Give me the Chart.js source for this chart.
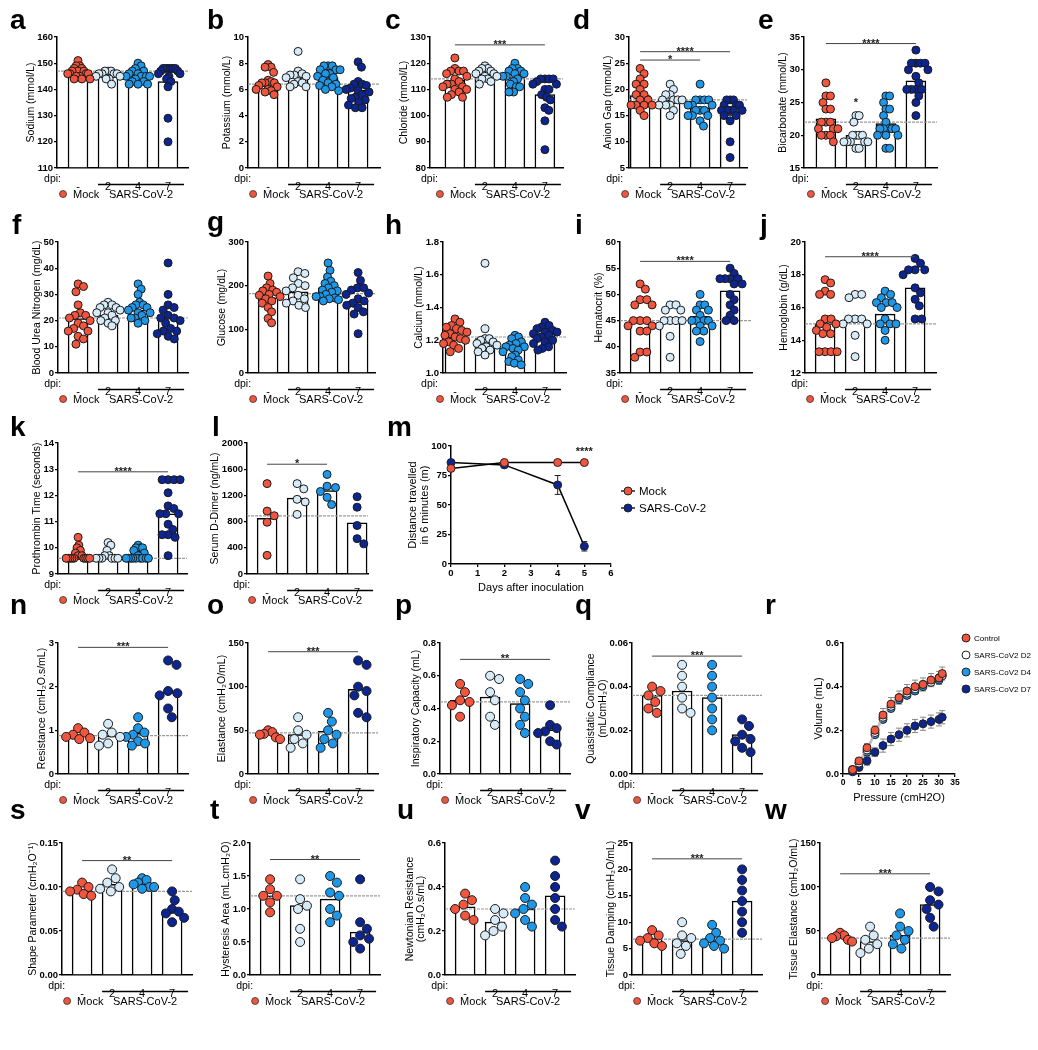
<!DOCTYPE html>
<html>
<head>
<meta charset="utf-8">
<script src="https://cdn.jsdelivr.net/npm/chart.js@4.4.0/dist/chart.umd.min.js"></script>
<style>
body { margin: 0; background: #fff; width: 1038px; height: 1050px; position: relative; overflow: hidden; }
canvas { position: absolute; }
.lbl { position: absolute; font: bold 28px "Liberation Sans", Arial, sans-serif; line-height: 1; }
</style>
</head>
<body>
<script>
// ---- data ----
const dpiLabels = ['-', '2', '4', '7'];

// a: sodium
const sodium = [
    [151, 149, 149, 148, 148, 147, 147, 147, 146, 146, 146, 146, 145, 145, 144, 144, 144],
    [147, 147, 147, 146, 146, 146, 146, 145, 145, 144, 144, 142],
    [150, 149, 148, 147, 147, 146, 146, 145, 145, 145, 145, 144, 143, 143, 142, 142, 142],
    [148, 148, 148, 148, 148, 148, 147, 147, 146, 146, 145, 144, 143, 141, 129, 120]
];
const sodiumMean = [147, 146.5, 145.5, 143];

// b: potassium
const potassium = [
    [7.9, 7.7, 7.7, 7.3, 6.7, 6.6, 6.5, 6.5, 6.5, 6.3, 6.2, 6.0, 6.0, 5.9, 5.8, 5.6],
    [8.9, 7.4, 7.2, 7.1, 7.1, 7.0, 6.9, 6.6, 6.5, 6.4, 6.2, 6.2],
    [7.8, 7.8, 7.8, 7.5, 7.5, 7.5, 7.2, 7.2, 7.0, 6.9, 6.7, 6.5, 6.4, 6.3, 6.2, 6.0, 5.9],
    [8.1, 7.7, 6.6, 6.4, 6.4, 6.3, 6.1, 6.0, 5.9, 5.8, 5.6, 5.4, 5.3, 5.2, 5.0, 4.8, 4.6, 4.6]
];
const potassiumMean = [6.4, 6.9, 6.9, 5.95];

// c: chloride
const chloride = [
    [122, 118, 117, 117, 117, 116, 115, 114, 113, 112, 112, 111, 111, 110, 110, 109, 108, 107, 107],
    [119, 118, 118, 117, 117, 116, 116, 115, 115, 114, 114, 113, 112],
    [120, 118, 118, 117, 117, 116, 116, 115, 115, 114, 113, 112, 111, 111, 109, 109],
    [114, 114, 114, 114, 113, 112, 112, 110, 110, 108, 107, 106, 103, 102, 98, 87]
];
const chlorideMean = [113.5, 115.5, 114.5, 108];

// d: anion gap
const anionGap = [
    [24, 23, 22, 21, 21, 20, 19, 19, 18, 18, 17, 17, 17, 17, 16, 15],
    [21, 20, 19, 19, 18, 18, 18, 18, 17, 17, 17, 16, 15],
    [21, 18, 18, 18, 18, 17, 17, 17, 16, 16, 16, 15, 15, 15, 14, 13],
    [18, 18, 18, 17, 17, 17, 16, 16, 16, 16, 16, 15, 15, 14, 10, 7]
];
const anionGapMean = [18.8, 18, 16.5, 15.2];

// e: bicarbonate
const bicarbonate = [
    [28, 26, 26, 25, 24, 24, 22, 22, 22, 21, 21, 21, 20, 20, 20, 19],
    [23, 23, 22, 20, 20, 20, 20, 19, 19, 19, 19, 19, 18, 18],
    [26, 26, 25, 24, 24, 23, 22, 21, 21, 21, 21, 21, 20, 20, 20, 18, 18],
    [33, 31, 31, 31, 31, 30, 30, 29, 28, 27, 27, 27, 27, 26, 25, 23]
];
const bicarbonateMean = [22.5, 20, 21.8, 28.3];

// f: blood urea nitrogen
const bun = [
    [34, 33, 31, 26, 23, 22, 22, 21, 20, 19, 18, 17, 16, 16, 14, 13, 11],
    [27, 26, 26, 25, 25, 24, 23, 23, 22, 21, 20, 20, 19, 18],
    [34, 32, 30, 27, 26, 26, 25, 25, 24, 23, 23, 22, 21, 21, 20, 19],
    [42, 30, 26, 25, 24, 22, 21, 21, 20, 19, 17, 16, 16, 15, 14, 13]
];
const bunMean = [20.8, 22, 24, 21.5];

// g: glucose
const glucose = [
    [222, 205, 195, 190, 188, 185, 180, 178, 175, 170, 165, 160, 150, 140, 125, 115],
    [232, 228, 218, 205, 200, 195, 188, 178, 170, 165, 160, 155, 150],
    [252, 235, 220, 210, 205, 200, 195, 190, 188, 185, 180, 175, 175, 172, 170, 168, 165],
    [230, 212, 195, 195, 190, 183, 180, 170, 165, 160, 155, 150, 140, 135, 90]
];
const glucoseMean = [172, 186, 195, 164];

// h: calcium
const calcium = [
    [1.33, 1.31, 1.29, 1.28, 1.27, 1.26, 1.25, 1.24, 1.23, 1.22, 1.21, 1.20, 1.19, 1.18, 1.17, 1.15, 1.13],
    [1.67, 1.27, 1.21, 1.21, 1.20, 1.19, 1.18, 1.17, 1.16, 1.15, 1.14, 1.13, 1.11],
    [1.23, 1.22, 1.21, 1.19, 1.18, 1.17, 1.16, 1.16, 1.15, 1.14, 1.13, 1.11, 1.10, 1.08, 1.07, 1.06, 1.05],
    [1.31, 1.29, 1.28, 1.27, 1.26, 1.25, 1.25, 1.24, 1.23, 1.22, 1.21, 1.20, 1.19, 1.18, 1.16, 1.15, 1.14]
];
const calciumMean = [1.22, 1.21, 1.16, 1.24];

// i: hematocrit
const hematocrit = [
    [52, 51, 49, 49, 48, 48, 45, 45, 45, 44, 44, 43, 43, 39, 39, 38],
    [48, 48, 47, 47, 45, 45, 45, 45, 44, 42, 38],
    [50, 48, 48, 47, 47, 46, 45, 45, 45, 45, 44, 44, 43, 43, 41],
    [55, 54, 53, 53, 53, 53, 52, 52, 50, 49, 48, 47, 46, 45, 45]
];
const hematocritMean = [45, 44.8, 45.8, 50.7];

// j: hemoglobin
const hemoglobin = [
    [17.7, 17.5, 17.0, 16.8, 16.8, 15.3, 15.3, 15.0, 15.0, 14.8, 14.6, 14.4, 14.4, 13.3, 13.3, 13.3, 13.3],
    [16.8, 16.8, 16.6, 15.3, 15.3, 15.3, 15.0, 15.0, 14.3, 13.0],
    [17.0, 16.8, 16.6, 16.3, 16.3, 16.3, 16.0, 16.0, 15.3, 15.0, 15.0, 15.0, 14.6, 14.0],
    [19.0, 18.7, 18.3, 18.3, 18.3, 18.0, 17.2, 16.9, 16.5, 16.1, 15.3, 15.3]
];
const hemoglobinMean = [15.0, 15.2, 15.6, 17.2];

// k: prothrombin time
const prothrombin = [
    [10.4, 10.1, 10.0, 9.9, 9.8, 9.7, 9.7, 9.6, 9.6, 9.6, 9.6, 9.6, 9.6, 9.6, 9.6, 9.6],
    [10.2, 10.1, 9.9, 9.7, 9.7, 9.6, 9.6, 9.6, 9.6, 9.6, 9.6],
    [10.1, 10.0, 10.0, 10.0, 9.9, 9.8, 9.7, 9.6, 9.6, 9.6, 9.6, 9.6, 9.6, 9.6, 9.6, 9.6],
    [12.6, 12.6, 12.6, 12.6, 12.1, 11.6, 11.5, 11.3, 11.3, 11.3, 10.9, 10.7, 10.5, 10.5, 10.4, 9.7]
];
const prothrombinMean = [9.72, 9.7, 9.72, 11.3];

// l: serum D-dimer
const dDimer = [
    [1380, 960, 890, 790, 285],
    [1380, 1300, 1140, 1100, 910],
    [1520, 1340, 1320, 1260, 1170, 1060],
    [1180, 1020, 740, 540, 460]
];
const dDimerMean = [850, 1160, 1275, 780];

// m: six-minute walk
const walkDays = [0, 2, 4, 5];
const walkMock = [81, 86, 86, 86];
const walkMockErr = [1, 1, 0.5, 0.5];
const walkCov = [86, 84, 67, 15];
const walkCovErr = [1, 2, 8, 4];

// n-q, s-w: lung function
const resistance = [
    [1.05, 0.95, 0.9, 0.85, 0.82, 0.8],
    [1.15, 0.95, 0.9, 0.85, 0.7, 0.65],
    [1.3, 1.05, 0.95, 0.9, 0.85, 0.75, 0.7, 0.65],
    [2.6, 2.5, 1.9, 1.85, 1.8, 1.5, 1.3]
];
const resistanceMean = [0.9, 0.87, 0.93, 1.87];
const elastance = [
    [50, 48, 46, 45, 42, 40],
    [65, 50, 45, 40, 35, 30],
    [70, 60, 50, 45, 40, 35, 30],
    [130, 125, 100, 95, 90, 70, 65]
];
const elastanceMean = [47, 45, 49, 97];
const inspCap = [
    [0.55, 0.5, 0.45, 0.44, 0.42, 0.35],
    [0.6, 0.58, 0.5, 0.45, 0.35, 0.3],
    [0.58, 0.55, 0.5, 0.45, 0.4, 0.35, 0.3, 0.25],
    [0.42, 0.3, 0.28, 0.26, 0.25, 0.2, 0.18]
];
const inspCapMean = [0.45, 0.47, 0.43, 0.27];
const compliance = [
    [0.04, 0.038, 0.036, 0.033, 0.03, 0.028],
    [0.05, 0.045, 0.04, 0.035, 0.03, 0.028],
    [0.05, 0.045, 0.04, 0.035, 0.03, 0.025, 0.02],
    [0.025, 0.022, 0.018, 0.016, 0.015, 0.012, 0.01]
];
const complianceMean = [0.036, 0.038, 0.035, 0.018];
const shapeParam = [
    [0.105, 0.1, 0.097, 0.095, 0.092, 0.09],
    [0.12, 0.11, 0.105, 0.1, 0.098, 0.095],
    [0.11, 0.108, 0.105, 0.103, 0.1, 0.1, 0.098],
    [0.095, 0.085, 0.075, 0.072, 0.07, 0.065, 0.06]
];
const shapeParamMean = [0.097, 0.103, 0.103, 0.074];
const hysteresis = [
    [1.45, 1.3, 1.2, 1.2, 1.1, 0.95],
    [1.45, 1.15, 1.05, 1.0, 0.7, 0.5],
    [1.5, 1.4, 1.25, 1.2, 1.0, 0.9, 0.8],
    [1.45, 0.8, 0.7, 0.6, 0.55, 0.5, 0.4]
];
const hysteresisMean = [1.2, 1.05, 1.15, 0.65];
const newtonian = [
    [0.37, 0.34, 0.32, 0.3, 0.27, 0.25],
    [0.3, 0.28, 0.25, 0.22, 0.2, 0.18],
    [0.4, 0.35, 0.32, 0.3, 0.28, 0.25, 0.22],
    [0.52, 0.45, 0.4, 0.35, 0.3, 0.25, 0.22]
];
const newtonianMean = [0.31, 0.24, 0.3, 0.36];
const tissueDamping = [
    [8.5, 7.5, 7, 6.5, 6, 5.5],
    [10, 7.5, 7, 6, 5.5, 4],
    [9.5, 8, 7, 6.5, 6, 5.5, 5],
    [20, 18, 16, 14, 12, 10, 8]
];
const tissueDampingMean = [7, 6.5, 6.5, 14];
const tissueElastance = [
    [48, 45, 44, 42, 40, 38],
    [55, 45, 40, 35, 30, 25],
    [70, 55, 50, 45, 40, 35, 30],
    [100, 95, 85, 80, 75, 65, 55]
];
const tissueElastanceMean = [43, 38, 45, 80];

// r: pressure-volume loops
const pvPressure = [3, 5, 7.5, 10, 12.5, 15, 17.5, 20, 22.5, 25, 27.5, 30, 31];
const pvControl = [0.02, 0.06, 0.12, 0.2, 0.27, 0.32, 0.35, 0.38, 0.4, 0.41, 0.43, 0.44, 0.46];
const pvD2 = [0.02, 0.05, 0.11, 0.19, 0.26, 0.31, 0.35, 0.37, 0.39, 0.41, 0.42, 0.44, 0.45];
const pvD4 = [0.02, 0.05, 0.1, 0.18, 0.25, 0.3, 0.34, 0.36, 0.38, 0.4, 0.42, 0.43, 0.45];
const pvD7 = [0.01, 0.03, 0.06, 0.1, 0.13, 0.16, 0.18, 0.2, 0.22, 0.23, 0.24, 0.25, 0.26];
const pvErr = [0.01, 0.01, 0.02, 0.02, 0.03, 0.03, 0.03, 0.03, 0.03, 0.03, 0.03, 0.03, 0.03];

// ---- styling ----
const FONT = '"Liberation Sans", Arial, sans-serif';
const groupColors = ['#f2553d', '#d6eaf8', '#1f97e8', '#0c2591'];
const catPx = 30;

Chart.defaults.font.family = FONT;
Chart.defaults.color = '#000';
Chart.defaults.animation = false;

// beeswarm offsets (px), squeezed to +-cap so the cloud stays on its bar
function swarm(vals, pxY, r, cap) {
    const d = 2 * r + 0.5;
    const placed = [];
    const xs = vals.map(v => {
        const y = v * pxY;
        const near = placed.filter(p => Math.abs(p.y - y) < d);
        const cands = [0];
        near.forEach(p => {
            const dx = Math.sqrt(d * d - (p.y - y) * (p.y - y));
            cands.push(p.x + dx, p.x - dx);
        });
        cands.sort((a, b) => Math.abs(a) - Math.abs(b) || b - a);
        const x = cands.find(c => near.every(p => (p.x - c) ** 2 + (p.y - y) ** 2 >= d * d - 0.01));
        placed.push({ x, y });
        return x;
    });
    const widest = Math.max(...xs.map(Math.abs));
    const k = widest > cap ? cap / widest : 1;
    return xs.map(x => x * k);
}

function addLetter(ch, x, baseline) {
    const el = document.createElement('div');
    el.className = 'lbl';
    el.textContent = ch;
    el.style.left = x + 'px';
    el.style.top = (baseline - 24) + 'px';
    document.body.appendChild(el);
}

function makeCanvas(rect, pad) {
    const [l, t, r, b] = rect;
    const cv = document.createElement('canvas');
    cv.width = r - l + pad.l + pad.r;
    cv.height = b - t + pad.t + pad.b;
    cv.style.left = (l - pad.l) + 'px';
    cv.style.top = (t - pad.t) + 'px';
    document.body.appendChild(cv);
    return cv;
}

function yAxis(min, max, step, dec, pad) {
    return {
        min, max,
        afterFit: s => { s.width = pad.l; },
        ticks: { stepSize: step, padding: 1, font: { size: 9.5, weight: 'bold' }, callback: v => v.toFixed(dec) },
        grid: { drawOnChartArea: false, tickLength: 3, color: '#000', lineWidth: 1.3 },
        border: { color: '#000', width: 1.5 }
    };
}

function drawYTitle(chart, lines, size) {
    const { ctx, chartArea: ca, scales: { y } } = chart;
    ctx.save();
    ctx.font = 'bold 9.5px ' + FONT;
    let maxW = 0;
    y.ticks.forEach(t => { maxW = Math.max(maxW, ctx.measureText(t.label).width); });
    const x0 = ca.left - 4 - maxW - 6.5;
    ctx.font = size + 'px ' + FONT;
    ctx.fillStyle = '#000';
    ctx.textAlign = 'center';
    ctx.textBaseline = 'middle';
    ctx.translate(x0, (ca.top + ca.bottom) / 2);
    ctx.rotate(-Math.PI / 2);
    lines.forEach((ln, i) => ctx.fillText(ln, 0, (i - (lines.length - 1)) * (size + 1)));
    ctx.restore();
}

function drawSig(chart, sig) {
    const { ctx, scales: { x, y } } = chart;
    ctx.save();
    sig.forEach(([a, b, v, txt]) => {
        const yy = y.getPixelForValue(v);
        const xa = x.getPixelForValue(a), xb = x.getPixelForValue(b);
        if (a !== b) {
            ctx.strokeStyle = '#444';
            ctx.lineWidth = 1;
            ctx.beginPath();
            ctx.moveTo(xa, yy);
            ctx.lineTo(xb, yy);
            ctx.stroke();
        }
        ctx.fillStyle = '#222';
        ctx.font = 'bold 11px ' + FONT;
        ctx.textAlign = 'center';
        ctx.textBaseline = 'alphabetic';
        ctx.fillText(txt, (xa + xb) / 2, yy + 3);
    });
    ctx.restore();
}

// dot plot panels (bar = mean, dots = animals)
function dotPanel(p) {
    const pad = { l: 70, t: 40, r: 30, b: 45 };
    const [l, t, r, b] = p.rect;
    const cv = makeCanvas(p.rect, pad);
    const xmax = p.x0 + (r - l) / catPx;
    const pxY = (b - t) / (p.y[1] - p.y[0]);
    const rad = p.rad || 4;
    const datasets = [{
        type: 'bar',
        data: p.mean.map((m, i) => ({ x: i, y: m })),
        backgroundColor: '#fff', borderColor: '#000', borderWidth: 1.5,
        barThickness: 20, base: p.y[0], order: 2
    }];
    p.vals.forEach((vs, i) => {
        const off = swarm(vs, pxY, rad, 12);
        datasets.push({
            type: 'scatter',
            data: vs.map((v, k) => ({ x: i + off[k] / catPx, y: v })),
            pointRadius: rad, pointBackgroundColor: groupColors[i],
            pointBorderColor: '#1a1a1a', pointBorderWidth: 1, clip: false, order: 1
        });
    });
    const extras = {
        id: 'extras' + p.id,
        afterDatasetDraw(chart, args) {
            if (args.index !== 0) return;
            const { ctx, chartArea: ca, scales: { y } } = chart;
            const yy = y.getPixelForValue(p.ref);
            ctx.save();
            ctx.strokeStyle = '#9a9a9a';
            ctx.lineWidth = 1.2;
            ctx.setLineDash([3, 1]);
            ctx.beginPath();
            ctx.moveTo(ca.left, yy);
            ctx.lineTo(ca.right, yy);
            ctx.stroke();
            ctx.restore();
        },
        afterDraw(chart) {
            const { ctx, chartArea: ca, scales: { x } } = chart;
            drawYTitle(chart, p.title, 10.5);
            drawSig(chart, p.sig || []);
            const x0 = x.getPixelForValue(0), x1 = x.getPixelForValue(1), x3 = x.getPixelForValue(3);
            ctx.save();
            ctx.fillStyle = '#000';
            ctx.font = '10.5px ' + FONT;
            ctx.textBaseline = 'middle';
            ctx.textAlign = 'right';
            ctx.fillText('dpi:', x0 - 17, ca.bottom + 11);
            // SARS-CoV-2 bracket
            ctx.strokeStyle = '#000';
            ctx.lineWidth = 1.5;
            ctx.beginPath();
            ctx.moveTo(x1 - 10, ca.bottom + 16.5);
            ctx.lineTo(x3 + 16, ca.bottom + 16.5);
            ctx.stroke();
            ctx.font = '11px ' + FONT;
            ctx.textAlign = 'center';
            ctx.fillText('SARS-CoV-2', (x1 + x3) / 2 + 3, ca.bottom + 26.5);
            ctx.textAlign = 'left';
            ctx.fillText('Mock', x0 - 5, ca.bottom + 26.5);
            ctx.beginPath();
            ctx.arc(x0 - 15, ca.bottom + 26, 3.5, 0, Math.PI * 2);
            ctx.fillStyle = groupColors[0];
            ctx.fill();
            ctx.lineWidth = 0.8;
            ctx.strokeStyle = '#333';
            ctx.stroke();
            ctx.restore();
        }
    };
    new Chart(cv, {
        type: 'scatter',
        data: { datasets },
        options: {
            responsive: false,
            events: [],
            layout: { padding: { left: 0, top: pad.t, right: pad.r, bottom: 0 } },
            plugins: { legend: { display: false }, tooltip: { enabled: false } },
            scales: {
                x: {
                    type: 'linear', min: p.x0, max: xmax, offset: false,
                    afterFit: s => { s.height = pad.b; },
                    afterBuildTicks: s => { s.ticks = dpiLabels.map((_, i) => ({ value: i })); },
                    ticks: { padding: 4, font: { size: 11 }, callback: v => dpiLabels[v] },
                    grid: { display: false, offset: false },
                    border: { color: '#000', width: 1.5 }
                },
                y: yAxis(p.y[0], p.y[1], p.y[2], p.dec || 0, pad)
            }
        },
        plugins: [extras]
    });
}

// error bars for line panels
function errPlugin(id, sets) {
    return {
        id,
        beforeDatasetsDraw(chart) {
            const { ctx, scales: { x, y } } = chart;
            ctx.save();
            ctx.lineWidth = 1;
            sets.forEach(([xs, ys, es, col]) => {
                ctx.strokeStyle = col;
                xs.forEach((xv, i) => {
                    const px = x.getPixelForValue(xv);
                    const y1 = y.getPixelForValue(ys[i] + es[i]), y2 = y.getPixelForValue(ys[i] - es[i]);
                    ctx.beginPath();
                    ctx.moveTo(px, y1); ctx.lineTo(px, y2);
                    ctx.moveTo(px - 3, y1); ctx.lineTo(px + 3, y1);
                    ctx.moveTo(px - 3, y2); ctx.lineTo(px + 3, y2);
                    ctx.stroke();
                });
            });
            ctx.restore();
        }
    };
}

function drawLegend(ctx, x, y, items, gap, withLine, size) {
    ctx.save();
    ctx.font = size + 'px ' + FONT;
    ctx.textBaseline = 'middle';
    ctx.fillStyle = '#000';
    items.forEach(([txt, col], i) => {
        const yy = y + i * gap;
        if (withLine) {
            ctx.strokeStyle = '#000';
            ctx.lineWidth = 1.3;
            ctx.beginPath(); ctx.moveTo(x - 7, yy); ctx.lineTo(x + 7, yy); ctx.stroke();
        }
        ctx.beginPath();
        ctx.arc(x, yy, 4, 0, Math.PI * 2);
        ctx.fillStyle = col; ctx.fill();
        ctx.strokeStyle = '#222'; ctx.lineWidth = 1; ctx.stroke();
        ctx.fillStyle = '#000';
        ctx.fillText(txt, x + (withLine ? 11 : 8), yy + 0.5);
    });
    ctx.restore();
}

function linePanel(p) {
    const pad = { l: 70, t: 40, r: 200, b: 45 };
    const cv = makeCanvas(p.rect, pad);
    const datasets = p.series.map(([xs, ys, col, , lineCol]) => ({
        data: xs.map((xv, i) => ({ x: xv, y: ys[i] })),
        showLine: true, borderColor: lineCol || '#000', borderWidth: p.lineWidth || 1.5,
        pointRadius: 4, pointBackgroundColor: col, pointBorderColor: '#222', pointBorderWidth: 1, clip: false
    }));
    const extras = {
        id: 'ex' + p.id,
        afterDraw(chart) {
            const { ctx, chartArea: ca } = chart;
            drawYTitle(chart, p.title, 11);
            ctx.save();
            ctx.font = '11px ' + FONT;
            ctx.fillStyle = '#000';
            ctx.textAlign = 'center';
            ctx.textBaseline = 'middle';
            ctx.fillText(p.xTitle, (ca.left + ca.right) / 2, ca.bottom + p.xTitleGap);
            ctx.restore();
            if (p.sig) drawSig(chart, p.sig);
            // legend placed in page coordinates
            const lx = p.leg[0] - parseFloat(chart.canvas.style.left);
            const ly = p.leg[1] - parseFloat(chart.canvas.style.top);
            drawLegend(ctx, lx, ly, p.series.map(s => [s[3], s[2]]), p.leg[2], p.legLine, p.leg[3]);
        }
    };
    new Chart(cv, {
        type: 'scatter',
        data: { datasets },
        options: {
            responsive: false,
            events: [],
            layout: { padding: { left: 0, top: pad.t, right: pad.r, bottom: 0 } },
            plugins: { legend: { display: false }, tooltip: { enabled: false } },
            scales: {
                x: {
                    type: 'linear', min: p.x[0], max: p.x[1],
                    afterFit: s => { s.height = pad.b; },
                    ticks: { stepSize: p.x[2], padding: 1, autoSkip: false, maxRotation: 0, font: { size: p.xTickSize || 9.5, weight: 'bold' } },
                    grid: { drawOnChartArea: false, tickLength: 3, color: '#000', lineWidth: 1.3 },
                    border: { color: '#000', width: 1.5 }
                },
                y: yAxis(p.y[0], p.y[1], p.y[2], p.dec || 0, pad)
            }
        },
        plugins: [extras, errPlugin('err' + p.id, p.errs)]
    });
}

// ---- panels ----
const dotPanels = [
    { id: 'a', title: ['Sodium (mmol/L)'], vals: sodium, mean: sodiumMean, ref: 147, y: [110, 160, 10], rect: [57, 37, 188, 168], x0: -0.7 },
    { id: 'b', title: ['Potassium (mmol/L)'], vals: potassium, mean: potassiumMean, ref: 6.4, y: [0, 10, 2], rect: [248, 37, 380, 168], x0: -0.67 },
    { id: 'c', title: ['Chloride (mmol/L)'], vals: chloride, mean: chlorideMean, ref: 114, y: [80, 130, 10], rect: [430, 37, 563, 168], x0: -0.83, sig: [[0, 3, 127, '***']] },
    { id: 'd', title: ['Anion Gap (mmol/L)'], vals: anionGap, mean: anionGapMean, ref: 18, y: [5, 30, 5], rect: [629, 37, 747, 168], x0: -0.37, sig: [[0, 3, 27.2, '****'], [0, 2, 25.6, '*']] },
    { id: 'e', title: ['Bicarbonate (mmol/L)'], vals: bicarbonate, mean: bicarbonateMean, ref: 22, y: [15, 35, 5], rect: [804, 37, 937, 168], x0: -0.73, sig: [[0, 3, 34, '****'], [1, 1, 25, '*']] },
    { id: 'f', title: ['Blood Urea Nitrogen (mg/dL)'], vals: bun, mean: bunMean, ref: 21, y: [0, 50, 10], rect: [58, 242, 188, 373], x0: -0.67 },
    { id: 'g', title: ['Glucose (mg/dL)'], vals: glucose, mean: glucoseMean, ref: 182, y: [0, 300, 100], rect: [248, 242, 375, 373], x0: -0.67 },
    { id: 'h', title: ['Calcium (mmol/L)'], vals: calcium, mean: calciumMean, ref: 1.22, y: [1.0, 1.8, 0.2], dec: 1, rect: [443, 242, 566, 373], x0: -0.4 },
    { id: 'i', title: ['Hematocrit (%)'], vals: hematocrit, mean: hematocritMean, ref: 45, y: [35, 60, 5], rect: [620, 242, 752, 373], x0: -0.67, sig: [[0, 3, 56.3, '****']] },
    { id: 'j', title: ['Hemoglobin (g/dL)'], vals: hemoglobin, mean: hemoglobinMean, ref: 15, y: [12, 20, 2], rect: [805, 242, 936, 373], x0: -0.67, sig: [[0, 3, 19.1, '****']] },
    { id: 'k', title: ['Prothrombin Time (seconds)'], vals: prothrombin, mean: prothrombinMean, ref: 9.6, y: [9, 14, 1], rect: [58, 443, 187, 574], x0: -0.67, sig: [[0, 3, 12.9, '****']] },
    { id: 'l', title: ['Serum D-Dimer (ng/mL)'], vals: dDimer, mean: dDimerMean, ref: 886, y: [0, 2000, 400], rect: [247, 443, 368, 574], x0: -0.67, sig: [[0, 2, 1676, '*']] },
    { id: 'n', title: ['Resistance (cmH\u2082O.s/mL)'], vals: resistance, mean: resistanceMean, ref: 0.88, y: [0, 3, 1], rect: [58, 643, 188, 774], x0: -0.67, rad: 4.5, sig: [[0, 3, 2.9, '***']] },
    { id: 'o', title: ['Elastance (cmH\u2082O/mL)'], vals: elastance, mean: elastanceMean, ref: 47, y: [0, 150, 50], rect: [248, 643, 378, 774], x0: -0.67, rad: 4.5, sig: [[0, 3, 140, '***']] },
    { id: 'p', title: ['Inspiratory Capacity (mL)'], vals: inspCap, mean: inspCapMean, ref: 0.44, y: [0, 0.8, 0.2], dec: 1, rect: [440, 643, 570, 774], x0: -0.67, rad: 4.5, sig: [[0, 3, 0.7, '**']] },
    { id: 'q', title: ['Quasistatic Compliance', '(mL/cmH\u2082O)'], vals: compliance, mean: complianceMean, ref: 0.036, y: [0, 0.06, 0.02], dec: 2, rect: [632, 643, 762, 774], x0: -0.67, rad: 4.5, sig: [[0, 3, 0.054, '***']] },
    { id: 's', title: ['Shape Parameter (cmH\u2082O\u207B\u00B9)'], vals: shapeParam, mean: shapeParamMean, ref: 0.095, y: [0, 0.15, 0.05], dec: 2, rect: [62, 843, 192, 975], x0: -0.67, rad: 4.5, sig: [[0, 3, 0.13, '**']] },
    { id: 't', title: ['Hysteresis Area (mL.cmH\u2082O)'], vals: hysteresis, mean: hysteresisMean, ref: 1.2, y: [0, 2, 0.5], dec: 1, rect: [250, 843, 380, 975], x0: -0.67, rad: 4.5, sig: [[0, 3, 1.75, '**']] },
    { id: 'u', title: ['Newtonian Resistance', '(cmH\u2082O.s/mL)'], vals: newtonian, mean: newtonianMean, ref: 0.3, y: [0, 0.6, 0.2], dec: 1, rect: [445, 843, 575, 975], x0: -0.67, rad: 4.5 },
    { id: 'v', title: ['Tissue Damping (cmH\u2082O/mL)'], vals: tissueDamping, mean: tissueDampingMean, ref: 6.8, y: [0, 25, 5], rect: [632, 843, 762, 975], x0: -0.67, rad: 4.5, sig: [[0, 3, 22, '***']] },
    { id: 'w', title: ['Tissue Elastance (cmH\u2082O/mL)'], vals: tissueElastance, mean: tissueElastanceMean, ref: 42, y: [0, 150, 50], rect: [820, 843, 950, 975], x0: -0.67, rad: 4.5, sig: [[0, 3, 115, '***']] }
];
dotPanels.forEach(dotPanel);

linePanel({
    id: 'm', rect: [451, 446, 611, 564], x: [0, 6, 1], y: [0, 100, 25],
    title: ['Distance travelled', 'in 6 minutes (m)'], xTitle: 'Days after inoculation', xTitleGap: 24,
    series: [[walkDays, walkMock, groupColors[0], 'Mock'], [walkDays, walkCov, '#0c2591', 'SARS-CoV-2']],
    errs: [[walkDays, walkMock, walkMockErr, '#222'], [walkDays, walkCov, walkCovErr, '#222']],
    sig: [[5, 5, 95, '****']], leg: [628, 491, 17, 11.5], legLine: true
});

linePanel({
    id: 'r', rect: [843, 643, 955, 774], x: [0, 35, 5], y: [0, 0.6, 0.2], dec: 1, xTickSize: 8.5,
    title: ['Volume (mL)'], xTitle: 'Pressure (cmH2O)', xTitleGap: 24, lineWidth: 0.8,
    series: [[pvPressure, pvControl, groupColors[0], 'Control', '#e88'], [pvPressure, pvD2, '#ffffff', 'SARS-CoV2 D2', '#999'],
             [pvPressure, pvD4, groupColors[2], 'SARS-CoV2 D4', '#7bd'], [pvPressure, pvD7, groupColors[3], 'SARS-CoV2 D7', '#56a']],
    errs: [[pvPressure, pvControl, pvErr, '#888'], [pvPressure, pvD7, pvErr, '#888']],
    leg: [966, 638, 17, 8], legLine: false
});

// panel letters
[['a', 10, 30], ['b', 207, 30], ['c', 385, 30], ['d', 573, 30], ['e', 758, 30],
 ['f', 12, 235], ['g', 207, 232], ['h', 385, 235], ['i', 575, 235], ['j', 760, 235],
 ['k', 10, 437], ['l', 212, 437], ['m', 387, 437],
 ['n', 10, 615], ['o', 207, 615], ['p', 395, 615], ['q', 575, 615], ['r', 765, 615],
 ['s', 10, 820], ['t', 210, 820], ['u', 397, 820], ['v', 575, 820], ['w', 765, 820]
].forEach(([c, x, y]) => addLetter(c, x, y));
</script>
</body>
</html>
